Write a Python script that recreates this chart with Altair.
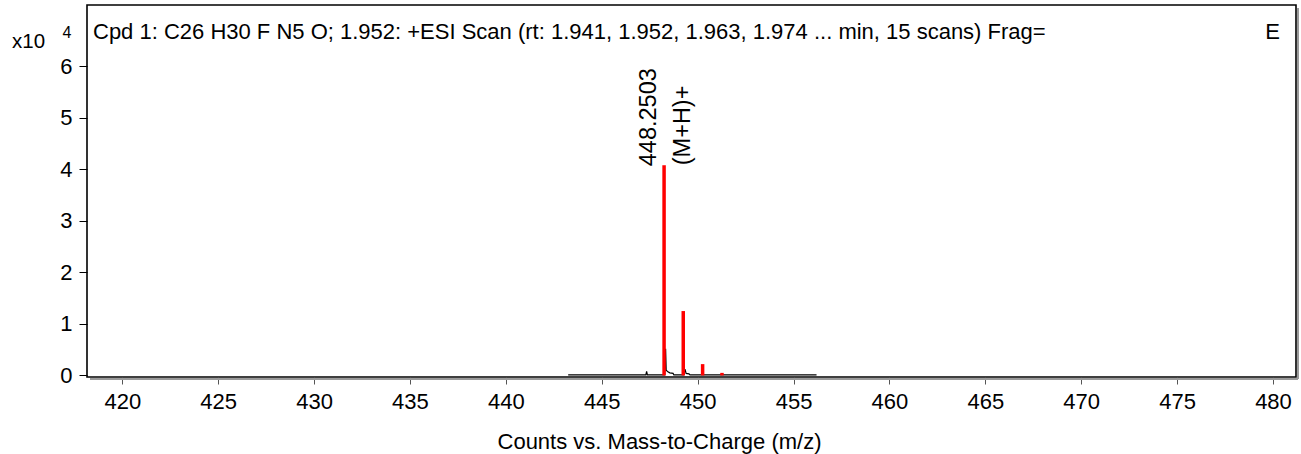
import altair as alt
import pandas as pd

# Centroid (red) sticks, counts in units of x10^4
stick_mz = [448.2503, 449.25, 450.26, 451.27]
stick_counts = [4.08, 1.25, 0.22, 0.05]

# Profile (black) trace, counts in units of x10^4
profile_mz = [443.25, 447.30, 447.34, 447.38, 448.28, 448.33, 448.36, 448.45,
              448.55, 448.72, 448.76, 449.28, 449.34, 449.40, 449.55, 449.60, 456.20]
profile_counts = [0.01, 0.01, 0.08, 0.01, 0.01, 0.52, 0.10, 0.07,
                  0.05, 0.04, 0.01, 0.01, 0.12, 0.04, 0.03, 0.01, 0.01]

x_ticks = [420, 425, 430, 435, 440, 445, 450, 455, 460, 465, 470, 475, 480]
y_ticks = [0, 1, 2, 3, 4, 5, 6]

title_text = "Cpd 1: C26 H30 F N5 O; 1.952: +ESI Scan (rt: 1.941, 1.952, 1.963, 1.974 ... min, 15 scans) Frag="
corner_text = "E"
peak_label = "448.2503"
peak_ion = "(M+H)+"
x_title = "Counts vs. Mass-to-Charge (m/z)"

FONT = "Liberation Sans"
W, H = 1209, 372

sticks = pd.DataFrame({"mz": stick_mz, "counts": stick_counts})
profile = pd.DataFrame({"mz": profile_mz, "counts": profile_counts})

xs = alt.Scale(domain=[418.16, 481.2], nice=False, zero=False)
ys = alt.Scale(domain=[-0.03, 7.19], nice=False, zero=False)

xaxis = alt.Axis(values=x_ticks, title=x_title, tickSize=7, tickColor="#555555",
                 labelPadding=7, labelFontSize=22, titleFontSize=22, grid=False,
                 domain=False, titleFontWeight="normal", titleBaseline="alphabetic",
                 titleY=71, titleX=572, titleAlign="center", titleAnchor="start",
                 labelFlush=False, labelFont=FONT, titleFont=FONT,
                 labelColor="#000000", titleColor="#000000")
yaxis = alt.Axis(values=y_ticks, title="", tickSize=8, tickColor="#000000",
                 labelPadding=7, labelFontSize=22, format="d", grid=False,
                 domain=False, labelFont=FONT, labelColor="#000000")

prof = alt.Chart(profile).mark_line(color="#000000", strokeWidth=1.2,
                                    interpolate="linear").encode(
    x=alt.X("mz:Q", scale=xs, axis=xaxis),
    y=alt.Y("counts:Q", scale=ys, axis=yaxis),
    order="mz:Q",
)

bars = alt.Chart(sticks).mark_rule(color="#ff0000", strokeWidth=3.5).encode(
    x=alt.X("mz:Q", scale=xs),
    y=alt.Y("counts:Q", scale=ys),
    y2=alt.datum(0),
)

top = sticks.iloc[[0]].assign(lab=peak_label, ion=peak_ion)
lab1 = alt.Chart(top).mark_text(angle=270, align="left", baseline="middle",
                                fontSize=23.5, font=FONT, dx=-1, dy=-15,
                                color="#000000").encode(
    x=alt.X("mz:Q", scale=xs), y=alt.Y("counts:Q", scale=ys), text="lab:N")
lab2 = alt.Chart(top).mark_text(angle=270, align="left", baseline="middle",
                                fontSize=23.5, font=FONT, dx=0, dy=19,
                                color="#000000").encode(
    x=alt.X("mz:Q", scale=xs), y=alt.Y("counts:Q", scale=ys), text="ion:N")

tdf = pd.DataFrame({"t": [title_text], "e": [corner_text], "m": ["x10"], "p": ["4"]})
ttl = alt.Chart(tdf).mark_text(align="left", baseline="alphabetic", fontSize=22,
                               font=FONT, color="#000000").encode(
    text="t:N", x=alt.value(6), y=alt.value(33.5))
corner = alt.Chart(tdf).mark_text(align="right", baseline="alphabetic", fontSize=22,
                                  font=FONT, color="#000000").encode(
    text="e:N", x=alt.value(1193), y=alt.value(33.5))
mult = alt.Chart(tdf).mark_text(align="left", baseline="alphabetic", fontSize=20.5,
                                font=FONT, color="#000000").encode(
    text="m:N", x=alt.value(-75), y=alt.value(43))
power = alt.Chart(tdf).mark_text(align="center", baseline="alphabetic", fontSize=16,
                                 font=FONT, color="#000000").encode(
    text="p:N", x=alt.value(-20), y=alt.value(33))

sh = pd.DataFrame({"a": [0]})
shadow_b = alt.Chart(sh).mark_rule(color="#9a9a9a", strokeWidth=2).encode(
    x=alt.value(3), x2=alt.value(W + 2), y=alt.value(H + 2))
shadow_r = alt.Chart(sh).mark_rule(color="#9a9a9a", strokeWidth=2).encode(
    x=alt.value(W + 2), y=alt.value(3), y2=alt.value(H + 2))

chart = alt.layer(prof, bars, lab1, lab2, ttl, corner, mult, power,
                  shadow_b, shadow_r).properties(
    width=W, height=H,
    padding={"left": 87, "top": 5, "right": 5, "bottom": 77},
    autosize=alt.AutoSizeParams(type="none"),
    background="#ffffff",
).configure_view(stroke="#000000", strokeWidth=1.6)

chart.save("out.html", embed_options={"renderer": "svg", "actions": False})
